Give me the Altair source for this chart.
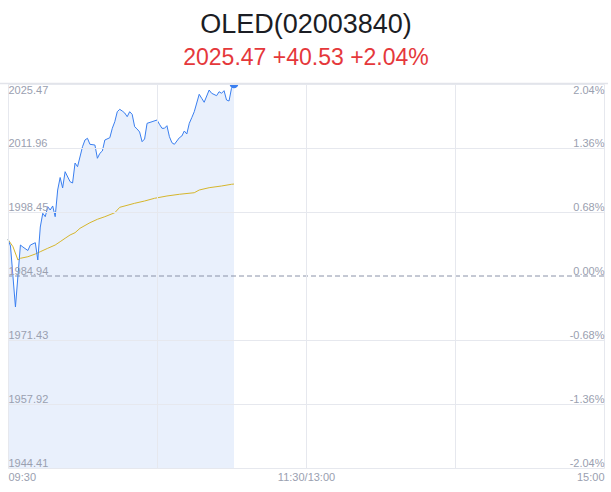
import altair as alt
import pandas as pd

title_text = "OLED(02003840)"
subtitle_text = "2025.47 +40.53 +2.04%"
prev_close = 1984.94
y_min, y_max = 1944.41, 2025.47
y_ticks = [1944.41, 1957.92, 1971.43, 1984.94, 1998.45, 2011.96, 2025.47]
pct_labels = ["-2.04%", "-1.36%", "-0.68%", "0.00%", "0.68%", "1.36%", "2.04%"]
x_ticks = [0, 60, 120, 180, 240]
x_labels = ["09:30", "", "11:30/13:00", "", "15:00"]

price_minutes = [0, 1, 3, 5, 6, 8, 9, 11, 12, 13, 14, 15, 16, 17, 18, 19, 20, 21, 22, 23,
                 25, 26, 27, 28, 30, 31, 32, 33, 35, 36, 37, 38, 39, 41, 42, 43, 44, 45, 46,
                 47, 48, 49, 50, 51, 52, 53, 54, 55, 56, 58, 60, 61, 62, 63, 64, 65, 66, 67,
                 69, 70, 71, 72, 73, 74, 75, 77, 78, 79, 81, 82, 84, 85, 86, 87, 88, 89, 90, 91]
price_values = [1992.65, 1991.27, 1978.40, 1991.48, 1991.06, 1990.32, 1991.48, 1991.97,
                1988.32, 1995.28, 1998.18, 1997.46, 1999.57, 1998.87, 1999.72, 1997.46,
                2003.09, 2005.73, 2003.52, 2006.96, 2004.85, 2004.57, 2008.79, 2008.01,
                2012.23, 2013.65, 2014.01, 2012.74, 2012.59, 2009.79, 2010.84, 2011.33,
                2013.65, 2014.13, 2016.12, 2017.51, 2019.62, 2020.13, 2019.77, 2019.35,
                2018.57, 2019.62, 2019.07, 2016.46, 2015.97, 2015.34, 2013.29, 2013.86,
                2017.17, 2017.51, 2017.87, 2016.96, 2016.12, 2016.12, 2016.67, 2014.35,
                2013.08, 2012.74, 2014.13, 2014.49, 2015.55, 2014.92, 2017.17, 2018.36,
                2019.62, 2023.30, 2022.45, 2021.61, 2024.20, 2023.51, 2023.00, 2023.84,
                2023.51, 2024.06, 2022.09, 2021.88, 2024.56, 2025.47]

avg_minutes = [0, 2, 4, 5, 8, 11, 13, 16, 19, 21, 23, 25, 27, 29, 33, 36, 39, 43, 45,
               51, 55, 59, 64, 69, 75, 77, 81, 86, 90, 91]
avg_values = [1992.65, 1991.13, 1988.32, 1988.68, 1989.01, 1989.58, 1990.07, 1990.79,
              1991.48, 1992.18, 1992.90, 1993.60, 1994.08, 1995.01, 1996.19, 1996.91,
              1997.46, 1998.30, 1999.44, 2000.29, 2000.77, 2001.34, 2001.83, 2002.19,
              2002.52, 2003.09, 2003.58, 2003.94, 2004.30, 2004.35]

price_df = pd.DataFrame({"m": price_minutes, "price": price_values})
avg_df = pd.DataFrame({"m": avg_minutes, "avg": avg_values})
last_df = price_df.tail(1)
prev_df = pd.DataFrame({"v": [prev_close]})

FONT = "Liberation Sans"
LABEL_COLOR = "#9aa0b0"
GRID_COLOR = "#e6e8ee"
BLUE = "#3a7ff0"
FILL = "#e9f0fc"
GOLD = "#d6b62c"

x_expr = " : ".join(
    f"datum.value == {v} ? '{l}'" for v, l in zip(x_ticks, x_labels)
) + " : ''"
pct_expr = " : ".join(
    f"abs(datum.value - {v}) < 0.001 ? '{l}'" for v, l in zip(y_ticks, pct_labels)
) + " : ''"

xscale = alt.Scale(domain=[0, 240], nice=False, zero=False)
yscale = alt.Scale(domain=[y_min, y_max], nice=False, zero=False)

baseline_cond = {"condition": {"test": f"datum.value > {y_max - 1}", "value": "top"},
                 "value": "bottom"}
grid_color_cond = {"condition": {"test": f"abs(datum.value - {prev_close}) < 0.001",
                                 "value": "transparent"},
                   "value": GRID_COLOR}

x_axis = alt.Axis(values=x_ticks, labelExpr=x_expr, title=None, grid=True,
                  gridColor=GRID_COLOR, domain=False, ticks=False, tickSize=0,
                  labelFlush=True, labelColor=LABEL_COLOR, labelFontSize=11,
                  labelFont=FONT, labelPadding=3, zindex=1)
x_enc = alt.X("m:Q", scale=xscale, axis=x_axis)

left_axis = alt.Axis(orient="left", values=y_ticks, format=".2f", title=None, grid=True,
                     gridColor=grid_color_cond, domain=False, ticks=False, tickSize=0,
                     labelAlign="left", labelPadding=0, labelBaseline=baseline_cond,
                     labelColor=LABEL_COLOR, labelFontSize=11, labelFont=FONT, zindex=1)
right_axis = alt.Axis(orient="right", values=y_ticks, labelExpr=pct_expr, title=None,
                      grid=False, domain=False, ticks=False, tickSize=0,
                      labelAlign="right", labelPadding=0, labelBaseline=baseline_cond,
                      labelColor=LABEL_COLOR, labelFontSize=11, labelFont=FONT, zindex=1)

area = alt.Chart(price_df).mark_area(color=FILL, opacity=1).encode(
    x=x_enc,
    y=alt.Y("price:Q", scale=yscale, axis=left_axis),
    y2=alt.datum(y_min),
)

prev_rule = alt.Chart(prev_df).mark_rule(color="#8a92a8", strokeDash=[5, 3], strokeWidth=1).encode(
    y=alt.Y("v:Q", scale=yscale, axis=None)
)

avg_line = alt.Chart(avg_df).mark_line(color=GOLD, strokeWidth=1).encode(
    x=x_enc,
    y=alt.Y("avg:Q", scale=yscale, axis=None),
)

price_line = alt.Chart(price_df).mark_line(color=BLUE, strokeWidth=1).encode(
    x=x_enc,
    y=alt.Y("price:Q", scale=yscale, axis=right_axis),
)

last_pt = alt.Chart(last_df).mark_point(filled=True, color=BLUE, size=75, opacity=1, clip=True).encode(
    x=x_enc,
    y=alt.Y("price:Q", scale=yscale, axis=None),
)

top_border = alt.Chart(prev_df).mark_rule(color="#e2e4ea", strokeWidth=1.5).encode(
    x=alt.value(-8), x2=alt.value(600), y=alt.value(-0.5)
)

chart = alt.layer(area, prev_rule, avg_line, price_line, last_pt, top_border).resolve_scale(
    y="independent"
).properties(
    width=596,
    height=384,
    padding={"left": 8, "right": 7, "top": 84, "bottom": 24},
    autosize=alt.AutoSizeParams(type="none"),
    title=alt.Title(
        title_text,
        subtitle=subtitle_text,
        font=FONT,
        fontSize=27,
        fontWeight="normal",
        color="#1b1d24",
        subtitleFont=FONT,
        subtitleFontSize=23,
        subtitleColor="#e5383b",
        subtitlePadding=8,
        anchor="middle",
        offset=11,
    ),
).configure_view(stroke=None)

chart.save("out.html", embed_options={"renderer": "svg", "actions": False})
